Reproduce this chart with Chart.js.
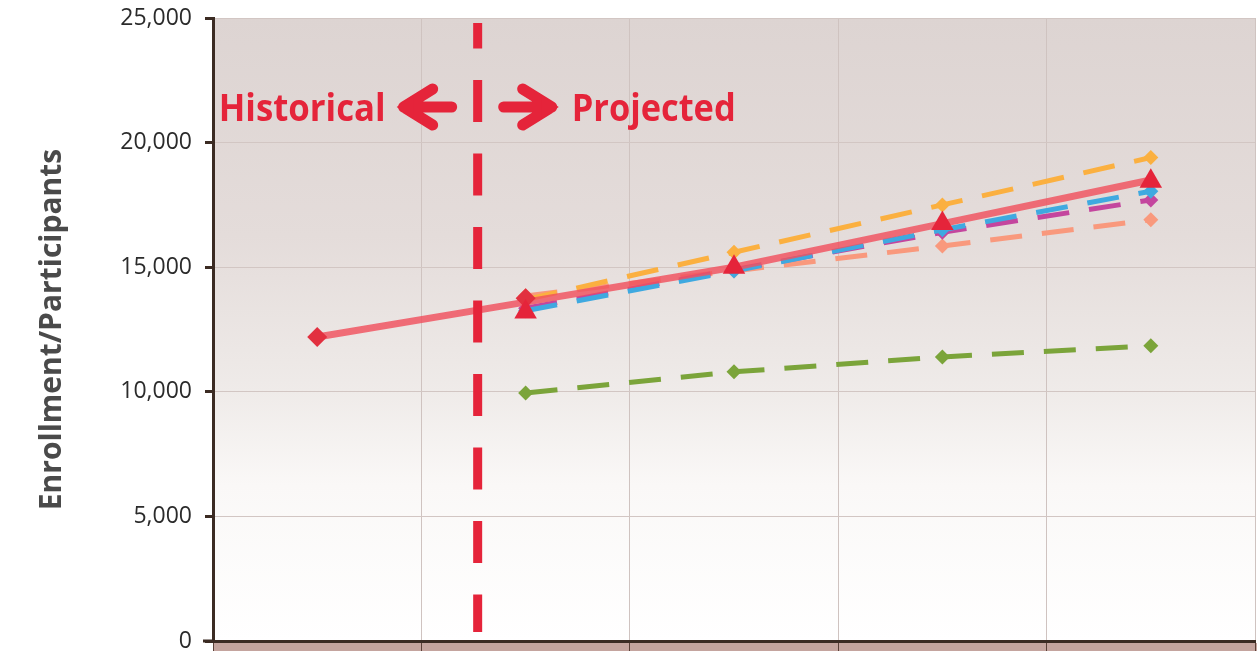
<!DOCTYPE html>
<html>
<head>
<meta charset="utf-8">
<script src="https://cdn.jsdelivr.net/npm/chart.js@4.4.1/dist/chart.umd.min.js"></script>
<style>
  html, body { margin: 0; padding: 0; background: #ffffff; }
  #wrap { width: 1257px; height: 651px; }
</style>
</head>
<body>
<div id="wrap"><canvas id="chart" width="1257" height="651"></canvas></div>
<script>
// Five reporting periods; the first one is historical, the rest are projections.
const periods = ['P1', 'P2', 'P3', 'P4', 'P5'];

// Baseline enrollment trend (solid red line).
const baselineTrend = [12200, 13600, 15000, 16750, 18500];
// Actual enrollment markers (red diamonds).
const actualPoints = [12200, 13750, null, null, null];
// Projected participants (red triangles).
const projectedPoints = [null, 13200, 15000, 16750, 18450];

// Alternative projection scenarios (dashed lines).
const scenarioHigh = [null, 13700, 15600, 17500, 19400];
const scenarioBlue = [null, 13250, 14850, 16500, 18050];
const scenarioMagenta = [null, 13350, 14900, 16400, 17700];
const scenarioLow = [null, 13850, 14850, 15850, 16900];
const scenarioSubset = [null, 9950, 10800, 11400, 11850];

// Y-axis tick values.
const yTicks = [0, 5000, 10000, 15000, 20000, 25000];

const RED = '#e5243a';

function dashed(label, data, color, order) {
  return {
    label, data, order,
    borderColor: color,
    backgroundColor: color,
    borderWidth: 5,
    borderDash: [32, 20],
    pointStyle: 'rectRot',
    pointRadius: 7.5,
    pointBorderWidth: 0,
    spanGaps: false,
    tension: 0
  };
}

// Soft top-to-bottom wash behind the plot and the band under the x axis.
const backdrop = {
  id: 'backdrop',
  beforeDraw(chart) {
    const { ctx, chartArea: a } = chart;
    ctx.save();
    const g = ctx.createLinearGradient(0, a.top, 0, a.bottom);
    g.addColorStop(0, '#ddd4d2');
    g.addColorStop(0.35, '#e4dcda');
    g.addColorStop(0.6, '#efebe9');
    g.addColorStop(0.75, '#faf8f7');
    g.addColorStop(1, '#ffffff');
    ctx.fillStyle = g;
    ctx.fillRect(a.left, a.top, a.right - a.left, a.bottom - a.top);
    ctx.fillStyle = '#c4a49e';
    ctx.fillRect(a.left, a.bottom + 2, chart.width - a.left, chart.height - a.bottom - 2);
    // x-axis rule continues a little past the y axis
    ctx.fillStyle = '#3b2b23';
    ctx.fillRect(a.left - 10, a.bottom - 1.5, 12, 3);
    ctx.restore();
  }
};

// Divider between historical and projected periods, with captions and arrows.
const divider = {
  id: 'divider',
  afterDatasetsDraw(chart, args, opts) {
    const { ctx, chartArea: a, scales } = chart;
    const D = scales.x.getPixelForValue(opts.at);
    const C = a.top + 89;
    ctx.save();
    ctx.strokeStyle = RED;
    ctx.fillStyle = RED;

    // dashed vertical rule
    ctx.lineWidth = 9;
    ctx.setLineDash([42, 31.5]);
    ctx.lineDashOffset = 16.5;
    ctx.beginPath();
    ctx.moveTo(D, a.top + 5);
    ctx.lineTo(D, a.bottom - 9);
    ctx.stroke();
    ctx.setLineDash([]);

    // arrows
    ctx.lineWidth = 11;
    ctx.lineCap = 'round';
    ctx.lineJoin = 'round';
    const arrow = (s) => {
      ctx.beginPath();
      ctx.moveTo(D + s * 45, C - 18);
      ctx.lineTo(D + s * 74, C);
      ctx.lineTo(D + s * 45, C + 18);
      ctx.moveTo(D + s * 74, C);
      ctx.lineTo(D + s * 26, C);
      ctx.stroke();
      ctx.beginPath();
      ctx.moveTo(D + s * 81, C);
      ctx.lineTo(D + s * 64, C - 12);
      ctx.lineTo(D + s * 64, C + 12);
      ctx.closePath();
      ctx.fill();
    };
    arrow(-1);
    arrow(1);

    // captions
    ctx.font = 'bold 38px "Open Sans"';
    ctx.textBaseline = 'middle';
    const drawFit = (text, x, w) => {
      const m = ctx.measureText(text).width;
      ctx.save();
      ctx.translate(x, C + 3);
      ctx.scale(w / m, 1);
      ctx.textAlign = 'left';
      ctx.fillText(text, 0, 0);
      ctx.restore();
    };
    drawFit('Historical', D - 259, 167);
    drawFit('Projected', D + 94, 164);
    ctx.restore();
  }
};

new Chart(document.getElementById('chart'), {
  type: 'line',
  data: {
    labels: periods,
    datasets: [
      {
        label: 'Projected participants',
        data: projectedPoints,
        order: 0,
        showLine: false,
        pointStyle: 'triangle',
        pointRadius: 13,
        pointBorderWidth: 0,
        backgroundColor: RED,
        borderColor: RED
      },
      {
        label: 'Actual enrollment',
        data: actualPoints,
        order: 1,
        showLine: false,
        pointStyle: 'rectRot',
        pointRadius: 10,
        pointBorderWidth: 0,
        backgroundColor: '#e2303f',
        borderColor: '#e2303f'
      },
      {
        label: 'Baseline trend',
        data: baselineTrend,
        order: 2,
        borderColor: 'rgba(240, 80, 94, 0.82)',
        borderWidth: 7,
        pointRadius: 0,
        tension: 0
      },
      dashed('High scenario', scenarioHigh, '#fbb040', 3),
      dashed('Scenario B', scenarioBlue, '#3fa9e0', 4),
      dashed('Scenario C', scenarioMagenta, '#c4469e', 5),
      dashed('Low scenario', scenarioLow, '#f9997d', 6),
      dashed('Subset', scenarioSubset, '#7ba43a', 7)
    ]
  },
  options: {
    responsive: false,
    devicePixelRatio: 1,
    animation: false,
    layout: { autoPadding: false, padding: { top: 18, right: 2, bottom: 0, left: 0 } },
    plugins: {
      legend: { display: false },
      tooltip: { enabled: false },
      divider: { at: 0.77 }
    },
    scales: {
      x: {
        offset: true,
        grid: {
          offset: true,
          color: '#cfc3c0',
          lineWidth: 1,
          drawTicks: true,
          tickLength: 10,
          tickColor: '#5a4038',
          tickWidth: 1
        },
        border: { display: true, color: '#3b2b23', width: 3 },
        ticks: { display: false },
        afterFit(scale) {
          scale.height = 10;
          scale.paddingLeft = 0;
          scale.paddingRight = 0;
        }
      },
      y: {
        min: 0,
        max: 25000,
        afterBuildTicks(scale) { scale.ticks = yTicks.map(v => ({ value: v })); },
        grid: {
          color: '#d2c6c3',
          lineWidth: 1,
          tickLength: 8,
          tickColor: '#3b2b23',
          tickWidth: 3
        },
        border: { display: true, color: '#3b2b23', width: 3 },
        ticks: {
          padding: 13,
          color: '#2b2b2b',
          font: { family: 'Open Sans', size: 23 },
          callback: v => v.toLocaleString('en-US')
        },
        title: {
          display: true,
          text: 'Enrollment/Participants',
          color: '#4a4a4a',
          font: { family: 'Open Sans', size: 30, weight: 'bold' },
          padding: { top: 34, bottom: 0 }
        },
        afterFit(scale) {
          scale.width = 213;
          scale.paddingTop = 0;
          scale.paddingBottom = 0;
        }
      }
    }
  },
  plugins: [backdrop, divider]
});
</script>
</body>
</html>
